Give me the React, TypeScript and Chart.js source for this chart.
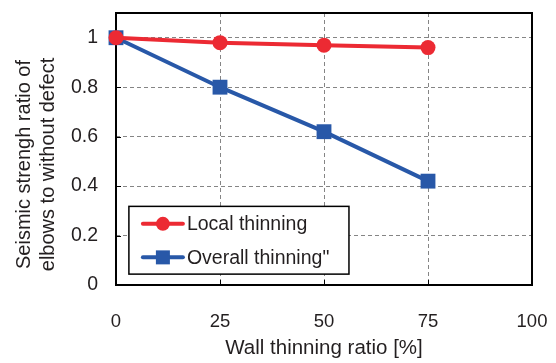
import React, { useEffect, useRef } from "react";
import { Chart, registerables } from "chart.js";

Chart.register(...registerables);

const thinningRatio = [0, 25, 50, 75];
const localThinning = [1, 0.98, 0.97, 0.96];
const overallThinning = [1, 0.8, 0.62, 0.42];
const seriesLabels = ["Local thinning", 'Overall thinning"'];
const xTicks = [0, 25, 50, 75, 100];
const yTicks = [0, 0.2, 0.4, 0.6, 0.8, 1];
const xTitle = "Wall thinning ratio [%]";
const yTitle = ["Seismic strengh ratio of", "elbows to without defect"];

const RED = "#ec2a33";
const BLUE = "#2858a8";
const TEXT = "#231f20";
const FONT = "'Liberation Sans', Arial, sans-serif";

const framePlugin = {
  id: "frame",
  beforeDatasetsDraw(chart: any) {
    const { ctx, chartArea: a, scales } = chart;
    ctx.save();
    ctx.strokeStyle = "#000";
    ctx.lineWidth = 1;
    for (const v of xTicks.slice(1, -1)) {
      const px = Math.round(scales.x.getPixelForValue(v)) + 0.5;
      ctx.beginPath();
      ctx.moveTo(px, a.bottom);
      ctx.lineTo(px, a.bottom - 5);
      ctx.stroke();
    }
    for (const v of yTicks.slice(1)) {
      const py = Math.round(scales.y.getPixelForValue(v)) + 0.5;
      ctx.beginPath();
      ctx.moveTo(a.left, py);
      ctx.lineTo(a.left + 5, py);
      ctx.stroke();
    }
    ctx.lineWidth = 2;
    ctx.strokeRect(a.left, a.top, a.right - a.left, a.bottom - a.top);
    ctx.restore();
  },
  afterDraw(chart: any) {
    // two-line rotated y-axis title, placed as in the reference
    const { ctx, chartArea: a } = chart;
    const cy = (a.top + a.bottom) / 2 + 15.5;
    const baselines = [29.5, 53.5];
    ctx.save();
    ctx.fillStyle = TEXT;
    ctx.font = `20px ${FONT}`;
    ctx.textAlign = "center";
    ctx.textBaseline = "alphabetic";
    yTitle.forEach((line, i) => {
      ctx.save();
      ctx.translate(baselines[i], cy);
      ctx.rotate(-Math.PI / 2);
      ctx.fillText(line, 0, 0);
      ctx.restore();
    });
    ctx.restore();
  },
};

const legendPlugin = {
  id: "innerLegend",
  afterDatasetsDraw(chart: any) {
    const { ctx, scales } = chart;
    const left = scales.x.getPixelForValue(3.1);
    const right = scales.x.getPixelForValue(56);
    const top = scales.y.getPixelForValue(0.318);
    const bottom = scales.y.getPixelForValue(0.044);
    ctx.save();
    ctx.fillStyle = "#fff";
    ctx.fillRect(left, top, right - left, bottom - top);
    ctx.strokeStyle = "#000";
    ctx.lineWidth = 1.5;
    ctx.strokeRect(left, top, right - left, bottom - top);
    const rows = [
      { y: top + 17.5, color: RED, style: "circle", text: seriesLabels[0] },
      { y: top + 51, color: BLUE, style: "rect", text: seriesLabels[1] },
    ];
    for (const r of rows) {
      const x0 = left + 14;
      const x1 = left + 54;
      ctx.strokeStyle = r.color;
      ctx.lineWidth = 4;
      ctx.lineCap = "round";
      ctx.beginPath();
      ctx.moveTo(x0, r.y);
      ctx.lineTo(x1, r.y);
      ctx.stroke();
      ctx.fillStyle = r.color;
      const cx = (x0 + x1) / 2;
      if (r.style === "circle") {
        ctx.beginPath();
        ctx.arc(cx, r.y, 7, 0, Math.PI * 2);
        ctx.fill();
      } else {
        ctx.fillRect(cx - 7, r.y - 7, 14, 14);
      }
      ctx.fillStyle = TEXT;
      ctx.font = `19.5px ${FONT}`;
      ctx.textBaseline = "middle";
      ctx.textAlign = "left";
      ctx.fillText(r.text, x1 + 4, r.y + 1);
    }
    ctx.restore();
  },
};

export default function App() {
  const ref = useRef<HTMLCanvasElement>(null);
  useEffect(() => {
    document.body.style.margin = "0";
    const chart = new Chart(ref.current as HTMLCanvasElement, {
      type: "line",
      data: {
        datasets: [
          {
            label: seriesLabels[0],
            data: thinningRatio.map((x, i) => ({ x, y: localThinning[i] })),
            borderColor: RED,
            backgroundColor: RED,
            borderWidth: 4,
            pointStyle: "circle",
            pointRadius: 7.5,
            pointBorderWidth: 0,
            clip: false,
          },
          {
            label: seriesLabels[1],
            data: thinningRatio.map((x, i) => ({ x, y: overallThinning[i] })),
            borderColor: BLUE,
            backgroundColor: BLUE,
            borderWidth: 4,
            pointStyle: "rect",
            pointRadius: 10.5,
            pointBorderWidth: 0,
            clip: false,
          },
        ],
      },
      options: {
        animation: false,
        responsive: false,
        devicePixelRatio: 1,
        layout: { padding: { top: 13, right: 24, left: 0, bottom: 0 } },
        plugins: { legend: { display: false }, tooltip: { enabled: false } },
        scales: {
          x: {
            type: "linear",
            min: 0,
            max: 100,
            afterBuildTicks: (s: any) => {
              s.ticks = xTicks.map((v) => ({ value: v }));
            },
            afterFit: (s: any) => {
              s.height = 78;
              s.paddingLeft = 0;
              s.paddingRight = 0;
              s.paddingTop = 0;
              s.paddingBottom = 0;
            },
            ticks: {
              color: TEXT,
              font: { family: FONT, size: 18.5 },
              padding: 26,
              maxRotation: 0,
              callback: (v: any) => String(v),
            },
            grid: {
              drawTicks: false,
              color: (c: any) =>
                c.tick && (c.tick.value === 0 || c.tick.value === 100) ? "rgba(0,0,0,0)" : "#858585",
              lineWidth: 1,
            },
            border: { display: false, dash: [4, 3] },
            title: {
              display: true,
              text: xTitle,
              color: TEXT,
              font: { family: FONT, size: 20.5 },
              padding: { top: 0, bottom: 2 },
            },
          },
          y: {
            type: "linear",
            min: 0,
            max: 1.1,
            afterBuildTicks: (s: any) => {
              s.ticks = yTicks.map((v) => ({ value: v }));
            },
            afterFit: (s: any) => {
              s.width = 116;
              s.paddingLeft = 0;
              s.paddingRight = 0;
              s.paddingTop = 0;
              s.paddingBottom = 0;
            },
            ticks: {
              color: TEXT,
              font: { family: FONT, size: 19.5 },
              padding: 18,
              callback: (v: any) => String(v),
            },
            grid: {
              drawTicks: false,
              color: (c: any) => (c.tick && c.tick.value === 0 ? "rgba(0,0,0,0)" : "#858585"),
              lineWidth: 1,
            },
            border: { display: false, dash: [4, 3] },
            title: { display: false },
          },
        },
      },
      plugins: [framePlugin, legendPlugin],
    } as any);
    return () => chart.destroy();
  }, []);
  return (
    <div style={{ position: "absolute", left: 0, top: 0, width: 556, height: 363 }}>
      <canvas ref={ref} width={556} height={363} />
    </div>
  );
}
